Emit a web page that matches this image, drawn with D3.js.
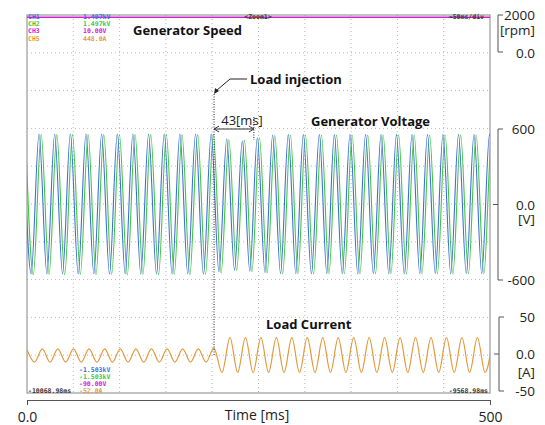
<!DOCTYPE html>
<html><head><meta charset="utf-8">
<script src="https://cdn.jsdelivr.net/npm/d3@7"></script>
<style>body{margin:0;background:#fff}</style></head>
<body><svg id="c" width="545" height="425"></svg>
<script>
// ---- data ----
const speedTimes = [0, 500];
const speedValues = [1880, 1880];

// Generator voltage CH1 (blue): alternating peak / trough extrema (ms, V)
const ch1Times = [-3.9,4.5,13.0,21.5,29.9,38.4,46.8,55.3,63.7,72.2,80.6,89.1,97.5,106.0,114.4,122.9,131.3,139.8,148.2,156.7,165.1,173.6,182.0,190.5,198.9,207.3,215.7,224.1,232.5,240.6,248.7,257.0,265.3,273.8,282.2,290.3,298.4,307.1,315.7,323.8,331.9,340.4,348.8,357.2,365.6,374.0,382.3,390.7,399.0,407.4,415.8,424.2,432.5,440.9,449.2,457.6,466.0,474.4,482.7,491.1,499.5,507.9];
const ch1Values = [560,-550,560,-552,558,-550,560,-552,560,-550,558,-552,560,-550,560,-552,558,-550,560,-552,560,-550,558,-552,560,-535,520,-520,505,-530,530,-540,550,-548,555,-548,555,-550,555,-548,555,-548,555,-550,555,-548,555,-548,555,-550,555,-548,555,-548,555,-550,555,-548,555,-548,555,-550];
// Generator voltage CH2 (green): alternating peak / trough extrema (ms, V)
const ch2Times = [-1.6,6.8,15.3,23.8,32.2,40.7,49.1,57.6,66.0,74.5,82.9,91.4,99.8,108.3,116.7,125.2,133.6,142.1,150.5,159.0,167.4,175.9,184.3,192.8,201.2,209.6,218.0,226.4,234.8,242.9,251.0,259.3,267.6,276.1,284.5,292.6,300.7,309.4,318.0,326.1,334.2,342.7,351.1,359.5,367.9,376.3,384.6,393.0,401.3,409.7,418.1,426.5,434.8,443.2,451.5,459.9,468.3,476.7,485.0,493.4,501.8,510.2];
const ch2Values = [555,-558,555,-555,555,-558,555,-555,555,-558,555,-555,555,-558,555,-555,555,-558,555,-555,555,-558,555,-555,555,-545,515,-525,510,-535,530,-545,548,-550,552,-550,552,-552,552,-550,552,-550,552,-552,552,-550,552,-550,552,-552,552,-550,552,-550,552,-552,552,-550,552,-550,552,-552];

// Load current CH5 (orange): alternating extrema (ms, A)
const ch5Times = [-0.4,8.1,16.5,24.9,33.3,41.8,50.2,58.6,67.0,75.5,83.9,92.3,100.7,109.2,117.6,126.0,134.4,142.9,151.3,159.7,168.1,176.6,185.0,193.4,201.8,210.6,219.2,227.5,235.9,244.2,252.6,260.9,269.3,277.6,286.0,294.3,302.7,311.0,319.4,327.7,336.1,344.4,352.8,361.1,369.5,377.8,386.2,394.5,402.9,411.2,419.6,427.9,436.3,444.6,453.0,461.3,469.7,478.0,486.4,494.7,503.1];
const ch5Values = [7,-11,7,-11,7,-11,7,-11,7,-11,7,-11,7,-11,7,-11,7,-11,7,-11,7,-11,7,-11,8,-25,22,-25,22,-25,22,-25,22,-25,22,-25,22,-25,22,-25,22,-25,22,-25,22,-25,22,-25,22,-25,22,-25,22,-25,22,-25,22,-25,22,-25,22];

const xTicks = [0, 500];
const xTickLabels = ["0.0", "500"];
const speedTicks = [2000, 0];
const speedTickLabels = ["2000", "0.0"];
const voltTicks = [600, 0, -600];
const voltTickLabels = ["600", "0.0", "-600"];
const currTicks = [50, 0, -50];
const currTickLabels = ["50", "0.0", "-50"];
const injectionTime = 202;
const delayMs = 43;

const legendTopNames = ["CH1","CH2","CH3","CH5"];
const legendTopValues = ["1.497kV","1.497kV","10.00V","448.0A"];
const legendBottomValues = ["-1.503kV","-1.503kV","-90.00V","-52.0A"];
const chColors = ["#3f6ce0","#3cc83c","#d024d0","#e39a3c"];

// ---- layout ----
const svg = d3.select("#c");
const L = 27, R = 490, T = 15, B = 393;
const x = d3.scaleLinear().domain([0, 500]).range([L, R]);
const yS = d3.scaleLinear().domain([0, 2000]).range([52, 15]);
const yV = d3.scaleLinear().domain([-600, 600]).range([280, 129]);
const yI = d3.scaleLinear().domain([-50, 50]).range([391, 317]);

svg.append("defs").append("clipPath").attr("id","clip")
  .append("rect").attr("x",L).attr("y",T).attr("width",R-L).attr("height",B-T);

// grid
const gx = d3.range(1,10).map(i => L + (R-L)*i/10);
const gy = d3.range(1,10).map(i => T + (B-T)*i/10);
const grid = svg.append("g").attr("stroke","#b8b8b8").attr("stroke-width",1).attr("stroke-dasharray","1,3");
gx.forEach(v => grid.append("line").attr("x1",v).attr("x2",v).attr("y1",T).attr("y2",B));
gy.forEach(v => grid.append("line").attr("y1",v).attr("y2",v).attr("x1",L).attr("x2",R));

// frame
svg.append("rect").attr("x",L).attr("y",T).attr("width",R-L).attr("height",B-T)
  .attr("fill","none").attr("stroke","#9a9a9a").attr("stroke-width",1.2);

const plot = svg.append("g").attr("clip-path","url(#clip)");
function series(times, values, yScale, color, w){
  const pts = times.map((t,i)=>[t, values[i]]);
  plot.append("path").datum(pts)
    .attr("d", d3.line().x(d=>x(d[0])).y(d=>yScale(d[1])).curve(d3.curveMonotoneX))
    .attr("fill","none").attr("stroke",color).attr("stroke-width",w);
}
series(ch2Times, ch2Values, yV, chColors[1], 1.1);
series(ch1Times, ch1Values, yV, chColors[0], 1.1);
series(ch5Times, ch5Values, yI, chColors[3], 1.2);
series(speedTimes, speedValues, yS, chColors[2], 1.4);

// oscilloscope legends
const mono = "'DejaVu Sans Mono', monospace";
function small(txt, tx, ty, color, anchor){
  svg.append("text").attr("x",tx).attr("y",ty).text(txt).attr("text-anchor",anchor||"start")
    .attr("font-family",mono).attr("font-size",6.5).attr("font-weight","bold").attr("fill",color);
}
legendTopNames.forEach((n,i)=>{
  small(n, 28, 19+i*7.2, chColors[i]);
  small(legendTopValues[i], 83, 19+i*7.2, chColors[i]);
});
legendBottomValues.forEach((v,i)=>small(v, 79, 371.5+i*7, chColors[i]));
small("-10068.98ms", 28, 393, "#333");
small("-9568.98ms", 488, 393, "#333", "end");
small("<Zoom1>", 258, 19, "#333", "middle");
small("=50ms/div", 484, 19, "#333", "end");

// titles
const sans = "'Open Sans', sans-serif";
function title(txt, tx, ty, bold){
  svg.append("text").attr("x",tx).attr("y",ty).text(txt)
    .attr("font-family",sans).attr("font-size",13).attr("font-weight",bold?"bold":"normal").attr("fill","#111");
}
title("Generator Speed", 133, 35, true);
title("Generator Voltage", 311, 126, true);
title("Load Current", 266, 329, true);
title("Load injection", 250, 84, true);

// injection marker
const xi = x(injectionTime);
svg.append("line").attr("x1",xi).attr("x2",xi).attr("y1",94).attr("y2",356)
  .attr("stroke","#222").attr("stroke-width",1).attr("stroke-dasharray","1,1.5");
svg.append("path").attr("d",`M${xi+33},79 L${xi+16},79 L${xi+3},90`)
  .attr("fill","none").attr("stroke","#222").attr("stroke-width",1);
svg.append("path").attr("d",`M${xi},94 L${xi+1},88 L${xi+5},91 Z`).attr("fill","#222");

// 43 ms dimension
const xe = x(injectionTime + delayMs);
svg.append("line").attr("x1",xe).attr("x2",xe).attr("y1",117).attr("y2",140)
  .attr("stroke","#222").attr("stroke-width",1).attr("stroke-dasharray","1,1.5");
svg.append("line").attr("x1",xi).attr("x2",xe).attr("y1",129).attr("y2",129).attr("stroke","#333");
svg.append("path").attr("d",`M${xi+5},126 L${xi},129 L${xi+5},132 M${xe-5},126 L${xe},129 L${xe-5},132`)
  .attr("fill","none").attr("stroke","#333");
svg.append("text").attr("x",xi+28).attr("y",125).attr("text-anchor","middle").text(delayMs+"[ms]")
  .attr("font-family",sans).attr("font-size",13).attr("fill","#222");

// bottom axis
const ax = svg.append("g").attr("transform","translate(0,400)")
  .call(d3.axisBottom(x).tickValues(xTicks).tickSize(5).tickSizeOuter(5).tickPadding(7)
    .tickFormat((d,i)=>xTickLabels[i]));
ax.select(".domain").attr("stroke","#555");
ax.selectAll(".tick line").attr("stroke","#555");
ax.selectAll(".tick text").attr("font-family",sans).attr("font-size",14).attr("fill","#222");
svg.append("text").attr("x",257).attr("y",420).attr("text-anchor","middle").text("Time [ms]")
  .attr("font-family",sans).attr("font-size",14).attr("fill","#222");

// right bracket axes
function bracket(scale, ticks, labels, labelYs, unit, unitY, bx, midTick){
  const y0 = scale(ticks[0]), y1 = scale(ticks[ticks.length-1]);
  svg.append("path").attr("d",`M${bx+5},${y0} L${bx},${y0} L${bx},${y1} L${bx+5},${y1}`)
    .attr("fill","none").attr("stroke","#555");
  if (midTick) {
    const ym = scale(ticks[1]);
    svg.append("line").attr("x1",bx-5).attr("x2",bx).attr("y1",ym).attr("y2",ym).attr("stroke","#555");
  }
  ticks.forEach((t,i)=>{
    svg.append("text").attr("x",535).attr("y",scale(t)+labelYs[i]).attr("text-anchor","end").text(labels[i])
      .attr("font-family",sans).attr("font-size",13.5).attr("fill","#222");
  });
  svg.append("text").attr("x",535).attr("y",unitY).attr("text-anchor","end").text(unit)
    .attr("font-family",sans).attr("font-size",13.5).attr("fill","#222");
}
bracket(yS, speedTicks, speedTickLabels, [5, 6], "[rpm]", 35, 498, false);
bracket(yV, voltTicks, voltTickLabels, [5, 5, 5], "[V]", 224, 498, true);
bracket(yI, currTicks, currTickLabels, [5, 5, 5], "[A]", 377, 499, true);
</script></body></html>
